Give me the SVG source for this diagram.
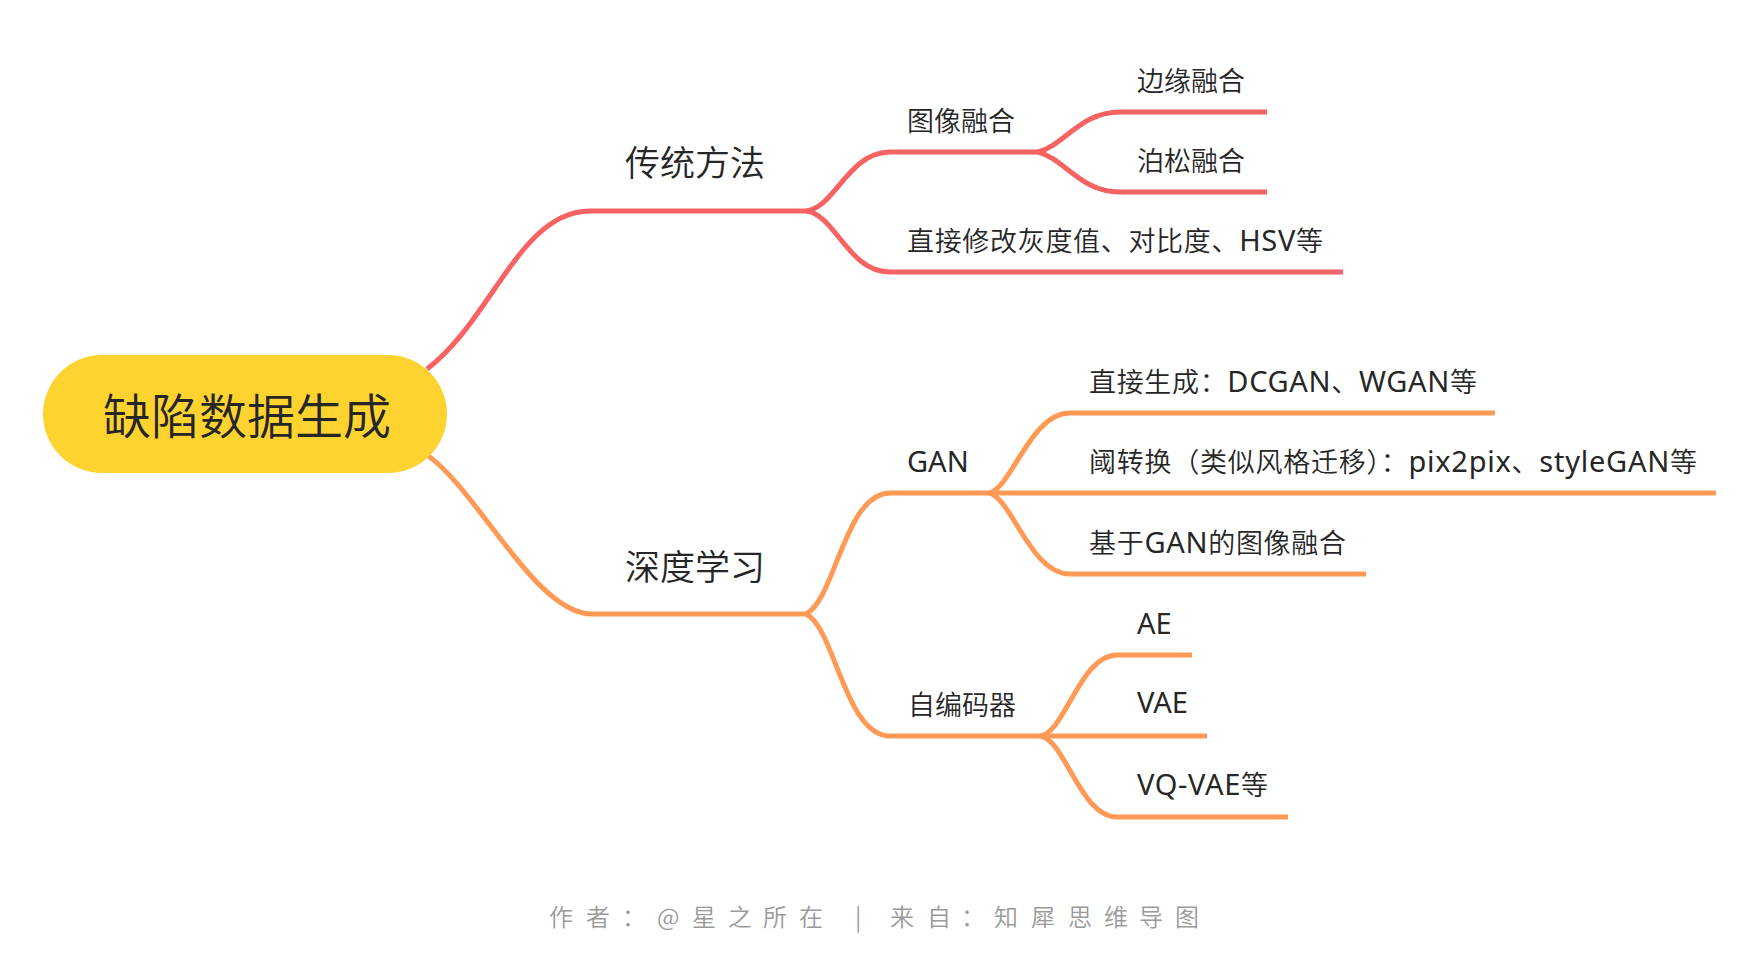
<svg xmlns="http://www.w3.org/2000/svg" width="1762" height="978" viewBox="0 0 1762 978">
<style>
.t{font-family:"Noto Sans","Noto Sans CJK SC",sans-serif;fill:#262626;font-weight:350}
.c{font-family:"Noto Sans CJK SC","Noto Sans",sans-serif;fill:#262626;font-weight:350}
.l1{font-size:35px}
.l2{font-size:27px}
.lt{font-size:29px;font-weight:400}
.red{fill:none;stroke:#F96262;stroke-width:5;stroke-linecap:butt}
.org{fill:none;stroke:#FF9A56;stroke-width:5;stroke-linecap:butt}
.foot{font-family:"Noto Sans CJK SC","Noto Sans",sans-serif;font-size:24px;fill:#9a9a9a;font-weight:350}
</style>
<rect width="1762" height="978" fill="#ffffff"/>
<g id="connectors">
  <path class="red" d="M427,369 C492,320 520,211 590,211 L806,211"/>
  <path class="red" d="M806,211 C835,208 848,152 890,152 L1038,152"/>
  <path class="red" d="M806,211 C835,214 848,272 890,272 L1343,272"/>
  <path class="red" d="M1038,152 C1065,145 1080,112 1120,112 L1267,112"/>
  <path class="red" d="M1038,152 C1065,159 1080,192 1120,192 L1267,192"/>
  <path class="org" d="M427,455 C478,490 535,614 592,614 L806,614"/>
  <path class="org" d="M806,614 C835,600 845,493 890,493 L989,493"/>
  <path class="org" d="M806,614 C835,628 845,736 890,736 L1040,736"/>
  <path class="org" d="M989,493 C1012,488 1030,413 1070,413 L1495,413"/>
  <path class="org" d="M989,493 L1716,493"/>
  <path class="org" d="M989,493 C1012,498 1030,574 1070,574 L1366,574"/>
  <path class="org" d="M1040,736 C1065,733 1080,655 1117,655 L1192,655"/>
  <path class="org" d="M1040,736 L1207,736"/>
  <path class="org" d="M1040,736 C1065,739 1080,817 1117,817 L1288,817"/>
</g>
<g id="root">
  <rect x="43" y="355" width="404" height="118" rx="59" fill="#FED22F"/>
  <text class="c" x="247" y="434" font-size="48" text-anchor="middle">缺陷数据生成</text>
</g>
<g id="n-traditional"><text class="c l1" x="695" y="176" text-anchor="middle">传统方法</text></g>
<g id="n-deep"><text class="c l1" x="695" y="580" text-anchor="middle">深度学习</text></g>
<g id="n-fusion"><text class="t l2" x="907" y="131">图像融合</text></g>
<g id="n-edge"><text class="t l2" x="1137" y="91">边缘融合</text></g>
<g id="n-poisson"><text class="t l2" x="1137" y="171">泊松融合</text></g>
<g id="n-direct"><text class="t l2" x="907" y="251" textLength="416" lengthAdjust="spacing">直接修改灰度值、对比度、<tspan class="lt">HSV</tspan>等</text></g>
<g id="n-gan"><text class="t l2 lt" x="907" y="472">GAN</text></g>
<g id="n-dcgan"><text class="t l2" x="1089" y="392" textLength="388" lengthAdjust="spacing">直接生成：<tspan class="lt">DCGAN</tspan>、<tspan class="lt">WGAN</tspan>等</text></g>
<g id="n-pix"><text class="t l2" x="1089" y="472" textLength="608" lengthAdjust="spacing">阈转换（类似风格迁移）：<tspan class="lt">pix2pix</tspan>、<tspan class="lt">styleGAN</tspan>等</text></g>
<g id="n-ganfusion"><text class="t l2" x="1089" y="553" textLength="257" lengthAdjust="spacing">基于<tspan class="lt">GAN</tspan>的图像融合</text></g>
<g id="n-ae-group"><text class="t l2" x="908" y="715">自编码器</text></g>
<g id="n-ae"><text class="t l2 lt" x="1137" y="634">AE</text></g>
<g id="n-vae"><text class="t l2 lt" x="1137" y="713">VAE</text></g>
<g id="n-vqvae"><text class="t l2" x="1137" y="795" textLength="131" lengthAdjust="spacing"><tspan class="lt">VQ-VAE</tspan>等</text></g>
<g id="footer"><text class="foot" x="549 586 622 657 692 728 763 799 855 890 927 961 994 1031 1068 1104 1139 1175" y="926">作者：@星之所在|来自：知犀思维导图</text></g>
</svg>
